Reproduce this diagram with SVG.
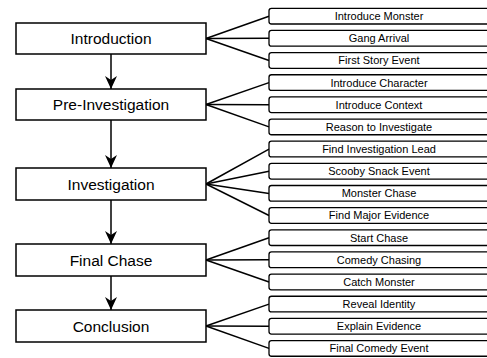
<svg xmlns="http://www.w3.org/2000/svg" width="487" height="358" viewBox="0 0 487 358">
<style>
.main rect{fill:#fff;stroke:#000;stroke-width:1.5}
.main text{font-family:"Liberation Sans",Arial,sans-serif;font-size:15.5px;fill:#000;text-anchor:middle}
.sub rect{fill:#fff;stroke:#000;stroke-width:1.3}
.sub text{font-family:"Liberation Sans",Arial,sans-serif;font-size:11px;fill:#000;text-anchor:middle}
#connectors line{stroke:#000;stroke-width:1.5}
</style>
<defs>
<marker id="ah" viewBox="0 0 13 12" refX="13" refY="6" markerWidth="13" markerHeight="12" markerUnits="userSpaceOnUse" orient="auto">
<path d="M0,0 L13,6 L0,12 L4,6 z" fill="#000"/>
</marker>
</defs>
<g id="connectors">
<line x1="111" y1="54" x2="111" y2="89" marker-end="url(#ah)"/>
<line x1="111" y1="120" x2="111" y2="168" marker-end="url(#ah)"/>
<line x1="111" y1="200" x2="111" y2="244" marker-end="url(#ah)"/>
<line x1="111" y1="276" x2="111" y2="310" marker-end="url(#ah)"/>
<line x1="206" y1="38.5" x2="269" y2="16.2"/>
<line x1="206" y1="38.5" x2="269" y2="38.3"/>
<line x1="206" y1="38.5" x2="269" y2="60.5"/>
<line x1="206" y1="104.5" x2="269" y2="82.6"/>
<line x1="206" y1="104.5" x2="269" y2="104.8"/>
<line x1="206" y1="104.5" x2="269" y2="126.9"/>
<line x1="206" y1="184" x2="269" y2="149.1"/>
<line x1="206" y1="184" x2="269" y2="171.2"/>
<line x1="206" y1="184" x2="269" y2="193.4"/>
<line x1="206" y1="184" x2="269" y2="215.5"/>
<line x1="206" y1="260" x2="269" y2="237.7"/>
<line x1="206" y1="260" x2="269" y2="259.8"/>
<line x1="206" y1="260" x2="269" y2="282"/>
<line x1="206" y1="326" x2="269" y2="304.1"/>
<line x1="206" y1="326" x2="269" y2="326.3"/>
<line x1="206" y1="326" x2="269" y2="348.4"/>
</g>
<g id="n-introduction" class="main"><rect x="16" y="23" width="190" height="31"/><text x="111" y="44">Introduction</text></g>
<g id="n-preinvestigation" class="main"><rect x="16" y="89" width="190" height="31"/><text x="111" y="110">Pre-Investigation</text></g>
<g id="n-investigation" class="main"><rect x="16" y="168" width="190" height="32"/><text x="111" y="189.5">Investigation</text></g>
<g id="n-finalchase" class="main"><rect x="16" y="244" width="190" height="32"/><text x="111" y="265.5">Final Chase</text></g>
<g id="n-conclusion" class="main"><rect x="16" y="310" width="190" height="32"/><text x="111" y="331.5">Conclusion</text></g>
<g id="s1" class="sub"><rect x="269" y="8.3" width="222" height="15.7" rx="2.5"/><text x="379" y="20.1">Introduce Monster</text></g>
<g id="s2" class="sub"><rect x="269" y="30.45" width="222" height="15.7" rx="2.5"/><text x="379" y="42.25">Gang Arrival</text></g>
<g id="s3" class="sub"><rect x="269" y="52.6" width="222" height="15.7" rx="2.5"/><text x="379" y="64.4">First Story Event</text></g>
<g id="s4" class="sub"><rect x="269" y="74.75" width="222" height="15.7" rx="2.5"/><text x="379" y="86.55">Introduce Character</text></g>
<g id="s5" class="sub"><rect x="269" y="96.9" width="222" height="15.7" rx="2.5"/><text x="379" y="108.7">Introduce Context</text></g>
<g id="s6" class="sub"><rect x="269" y="119.05" width="222" height="15.7" rx="2.5"/><text x="379" y="130.85">Reason to Investigate</text></g>
<g id="s7" class="sub"><rect x="269" y="141.2" width="222" height="15.7" rx="2.5"/><text x="379" y="153">Find Investigation Lead</text></g>
<g id="s8" class="sub"><rect x="269" y="163.35" width="222" height="15.7" rx="2.5"/><text x="379" y="175.15">Scooby Snack Event</text></g>
<g id="s9" class="sub"><rect x="269" y="185.5" width="222" height="15.7" rx="2.5"/><text x="379" y="197.3">Monster Chase</text></g>
<g id="s10" class="sub"><rect x="269" y="207.65" width="222" height="15.7" rx="2.5"/><text x="379" y="219.45">Find Major Evidence</text></g>
<g id="s11" class="sub"><rect x="269" y="229.8" width="222" height="15.7" rx="2.5"/><text x="379" y="241.6">Start Chase</text></g>
<g id="s12" class="sub"><rect x="269" y="251.95" width="222" height="15.7" rx="2.5"/><text x="379" y="263.75">Comedy Chasing</text></g>
<g id="s13" class="sub"><rect x="269" y="274.1" width="222" height="15.7" rx="2.5"/><text x="379" y="285.9">Catch Monster</text></g>
<g id="s14" class="sub"><rect x="269" y="296.25" width="222" height="15.7" rx="2.5"/><text x="379" y="308.05">Reveal Identity</text></g>
<g id="s15" class="sub"><rect x="269" y="318.4" width="222" height="15.7" rx="2.5"/><text x="379" y="330.2">Explain Evidence</text></g>
<g id="s16" class="sub"><rect x="269" y="340.55" width="222" height="15.7" rx="2.5"/><text x="379" y="352.35">Final Comedy Event</text></g>
</svg>
